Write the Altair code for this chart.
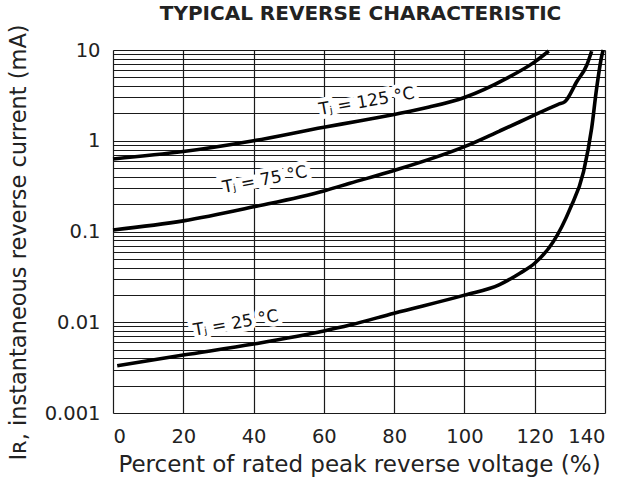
import altair as alt
import pandas as pd

# ---- data ----
x125 = [0, 20, 40, 60, 70, 80, 90, 100, 112, 120, 124]
y125 = [0.63, 0.76, 1.0, 1.41, 1.65, 1.95, 2.35, 3.0, 4.87, 7.4, 9.75]

x75 = [0, 20, 40, 60, 67.4, 80, 100, 110, 115.8, 120, 126.7, 128.6, 132, 134.8, 136.2]
y75 = [0.104, 0.131, 0.187, 0.28, 0.34, 0.47, 0.86, 1.28, 1.62, 1.93, 2.52, 2.7, 4.5, 6.8, 9.7]

x25 = [1.2, 20, 40, 60, 67.4, 80, 100, 110, 115.8, 120, 125.3, 130.1, 133.9, 136.2, 137.6, 139.1, 139.5]
y25 = [0.00332, 0.00435, 0.00575, 0.0080, 0.0093, 0.0126, 0.0199, 0.026, 0.0347, 0.0447,
       0.0773, 0.18, 0.456, 1.37, 3.73, 8.7, 10]

label_text = ["T\u2c7c = 125 °C", "T\u2c7c = 75 °C", "T\u2c7c = 25 °C"]
label_x = [72.2, 43.2, 35.0]
label_y = [2.69, 0.37, 0.0097]
label_angle = [350, 349, 350]

x_ticks = [0, 20, 40, 60, 80, 100, 120, 140]
y_grid = [k * 10 ** e for e in range(-3, 1) for k in range(1, 10)] + [10]

rows = []
for name, xs, ys in [("125", x125, y125), ("75", x75, y75), ("25", x25, y25)]:
    for a, b in zip(xs, ys):
        rows.append({"series": name, "x": a, "y": b})
df = pd.DataFrame(rows)
labels = pd.DataFrame({"text": label_text, "x": label_x, "y": label_y, "angle": label_angle})

FONT = "DejaVu Sans"
INK = "#222"

xscale = alt.Scale(domain=[0, 140], nice=False, zero=False)
yscale = alt.Scale(type="log", domain=[0.001, 10], nice=False)

xaxis = alt.Axis(values=x_ticks, title="Percent of rated peak reverse voltage (%)",
                 ticks=False, domain=False, labelPadding=14, titlePadding=8,
                 labelFontSize=19.5, titleFontSize=23, labelFont=FONT, titleFont=FONT,
                 titleFontWeight="normal", labelColor=INK, titleColor=INK,
                 grid=True, gridColor="#1a1a1a", gridWidth=1.2, gridOpacity=1)
# top axis used only to carry the chart heading
top_axis = alt.Axis(orient="top", title="TYPICAL REVERSE CHARACTERISTIC",
                    labels=False, ticks=False, domain=False, grid=False,
                    titleFont=FONT, titleFontSize=20, titleFontWeight="bold",
                    titleColor=INK, titleBaseline="alphabetic", titleY=-31,
                    titleX=247, titleAlign="center")
yaxis = alt.Axis(values=y_grid, title="I\u0280, instantaneous reverse current (mA)",
                 labelExpr="abs(log(datum.value)/LN10 - round(log(datum.value)/LN10)) < 1e-6 ? format(datum.value, '~g') : ''",
                 ticks=False, domain=False, labelPadding=13, titlePadding=14,
                 titleY=192, titleAlign="center",
                 labelFontSize=19.5, titleFontSize=22.5, labelFont=FONT, titleFont=FONT,
                 titleFontWeight="normal", labelColor=INK, titleColor=INK,
                 labelBaseline="middle",
                 grid=True, gridColor="#1a1a1a", gridWidth=1, gridOpacity=1)

lines = alt.Chart(df).mark_line(interpolate="monotone", color="black", strokeWidth=3.6).encode(
    x=alt.X("x:Q", scale=xscale, axis=xaxis),
    y=alt.Y("y:Q", scale=yscale, axis=yaxis),
    detail="series:N",
)

halo = alt.Chart(labels).mark_text(font=FONT, fontSize=17, color="white", stroke="white",
                                   strokeWidth=9, align="center", baseline="middle").encode(
    x=alt.X("x:Q", scale=xscale, axis=top_axis), y=alt.Y("y:Q", scale=yscale), text="text:N",
    angle=alt.Angle("angle:Q", scale=None),
)
text = alt.Chart(labels).mark_text(font=FONT, fontSize=17, color="#111",
                                   align="center", baseline="middle").encode(
    x=alt.X("x:Q", scale=xscale), y=alt.Y("y:Q", scale=yscale), text="text:N",
    angle=alt.Angle("angle:Q", scale=None),
)

chart = alt.layer(lines, alt.layer(halo, text)).resolve_axis(x="independent").properties(
    width=492, height=363,
    autosize=alt.AutoSizeParams(type="none"),
    padding={"left": 113, "top": 50, "right": 23, "bottom": 75},
).configure_view(stroke="black", strokeWidth=1.5).configure(background="white")

chart.save("out.html", embed_options={"renderer": "svg", "actions": False})
